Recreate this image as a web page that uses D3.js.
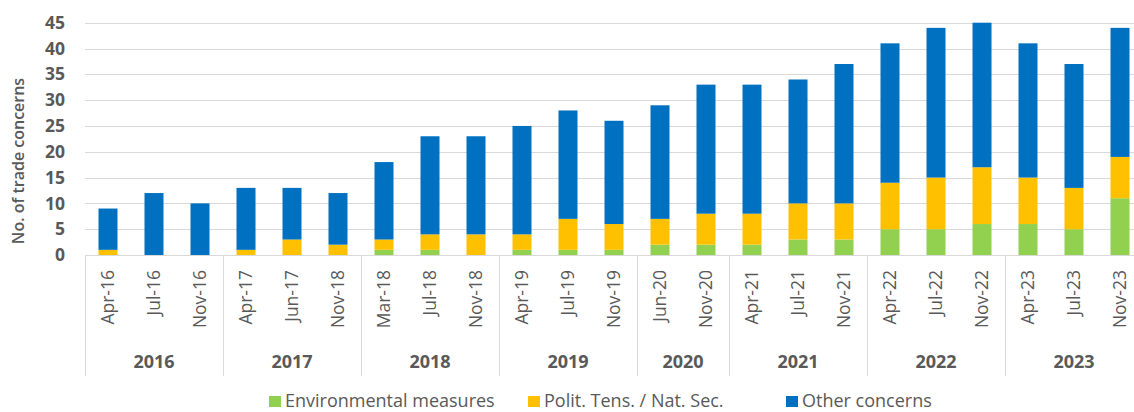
<!DOCTYPE html>
<html lang="en">
<head>
    <meta charset="UTF-8">
    <title>Trade concerns</title>
    <script src="https://d3js.org/d3.v7.min.js"></script>
    <style>
        body { margin: 0; background: #fff; }
        text { font-family: "Open Sans", sans-serif; fill: #595959; }
        .grid line { stroke: #d9d9d9; stroke-width: 1; }
        .ytick { font-size: 17.5px; font-weight: bold; }
        .month { font-size: 17.5px; }
        .year { font-size: 18px; font-weight: bold; }
        .legend text { font-size: 18px; }
    </style>
</head>
<body>
    <svg width="1134" height="412"></svg>
    <script>
        const months = ["Apr-16", "Jul-16", "Nov-16", "Apr-17", "Jun-17", "Nov-18", "Mar-18", "Jul-18", "Nov-18",
                        "Apr-19", "Jul-19", "Nov-19", "Jun-20", "Nov-20", "Apr-21", "Jul-21", "Nov-21",
                        "Apr-22", "Jul-22", "Nov-22", "Apr-23", "Jul-23", "Nov-23"];
        const years = ["2016", "2017", "2018", "2019", "2020", "2021", "2022", "2023"];
        const yearCounts = [3, 3, 3, 3, 2, 3, 3, 3];
        const env   = [0, 0, 0, 0, 0, 0, 1, 1, 0, 1, 1, 1, 2, 2, 2, 3, 3, 5, 5, 6, 6, 5, 11];
        const pol   = [1, 0, 0, 1, 3, 2, 2, 3, 4, 3, 6, 5, 5, 6, 6, 7, 7, 9, 10, 11, 9, 8, 8];
        const other = [8, 12, 10, 12, 10, 10, 15, 19, 19, 21, 21, 20, 22, 25, 25, 24, 27, 27, 29, 28, 26, 24, 25];
        const seriesNames = ["Environmental measures", "Polit. Tens. / Nat. Sec.", "Other concerns"];
        const colors = ["#92D050", "#FFC000", "#0070C0"];
        const yTicks = [0, 5, 10, 15, 20, 25, 30, 35, 40, 45];

        const svg = d3.select("svg");
        const plotLeft = 85, step = 46, plotTop = 22.7, plotBottom = 255;
        const plotRight = plotLeft + step * months.length;

        const x = d3.scaleBand()
            .domain(d3.range(months.length))
            .range([plotLeft, plotRight])
            .paddingInner(0.587)
            .paddingOuter(0.2935);
        const y = d3.scaleLinear().domain([0, 45]).range([plotBottom, plotTop]);

        // gridlines
        svg.append("g").attr("class", "grid")
            .selectAll("line").data(yTicks).join("line")
            .attr("x1", plotLeft).attr("x2", plotRight)
            .attr("y1", d => Math.round(y(d)) + 0.5)
            .attr("y2", d => Math.round(y(d)) + 0.5);

        // y axis labels
        svg.append("g").selectAll("text").data(yTicks).join("text")
            .attr("class", "ytick")
            .attr("x", 65)
            .attr("y", d => y(d))
            .attr("dy", "0.35em")
            .attr("text-anchor", "end")
            .text(d => d);

        svg.append("text")
            .attr("transform", "translate(24,161) rotate(-90)")
            .attr("text-anchor", "middle")
            .style("font-size", "16px")
            .style("font-weight", "600")
            .text("No. of trade concerns");

        // stacked bars
        const rows = months.map((m, i) => ({ i: i, env: env[i], pol: pol[i], other: other[i] }));
        const stack = d3.stack().keys(["env", "pol", "other"])(rows);
        svg.append("g").selectAll("g").data(stack).join("g")
            .attr("fill", (d, k) => colors[k])
            .selectAll("rect").data(d => d).join("rect")
            .attr("x", d => x(d.data.i))
            .attr("width", x.bandwidth())
            .attr("y", d => y(d[1]))
            .attr("height", d => y(d[0]) - y(d[1]));

        // month labels
        svg.append("g").selectAll("text").data(months).join("text")
            .attr("class", "month")
            .attr("transform", (d, i) => "translate(" + (x(i) + x.bandwidth() / 2 + 5.5) + ",270) rotate(-90)")
            .attr("text-anchor", "end")
            .text(d => d);

        // year groups
        let start = 0;
        const groups = years.map((yr, g) => {
            const o = { year: yr, x0: plotLeft + start * step, x1: plotLeft + (start + yearCounts[g]) * step };
            start += yearCounts[g];
            return o;
        });
        const sep = [plotLeft].concat(groups.map(g => g.x1));
        svg.append("g").attr("class", "grid")
            .selectAll("line").data(sep).join("line")
            .attr("x1", d => d + 0.5).attr("x2", d => d + 0.5)
            .attr("y1", plotBottom).attr("y2", 376);
        svg.append("g").selectAll("text").data(groups).join("text")
            .attr("class", "year")
            .attr("x", d => (d.x0 + d.x1) / 2)
            .attr("y", 368)
            .attr("text-anchor", "middle")
            .text(d => d.year);

        // legend
        const legX = [269, 528, 786];
        const leg = svg.append("g").attr("class", "legend")
            .selectAll("g").data(seriesNames).join("g")
            .attr("transform", (d, k) => "translate(" + legX[k] + ",396)");
        leg.append("rect").attr("width", 12).attr("height", 11).attr("fill", (d, k) => colors[k]);
        leg.append("text").attr("x", 16).attr("y", 11).text(d => d);
    </script>
</body>
</html>
